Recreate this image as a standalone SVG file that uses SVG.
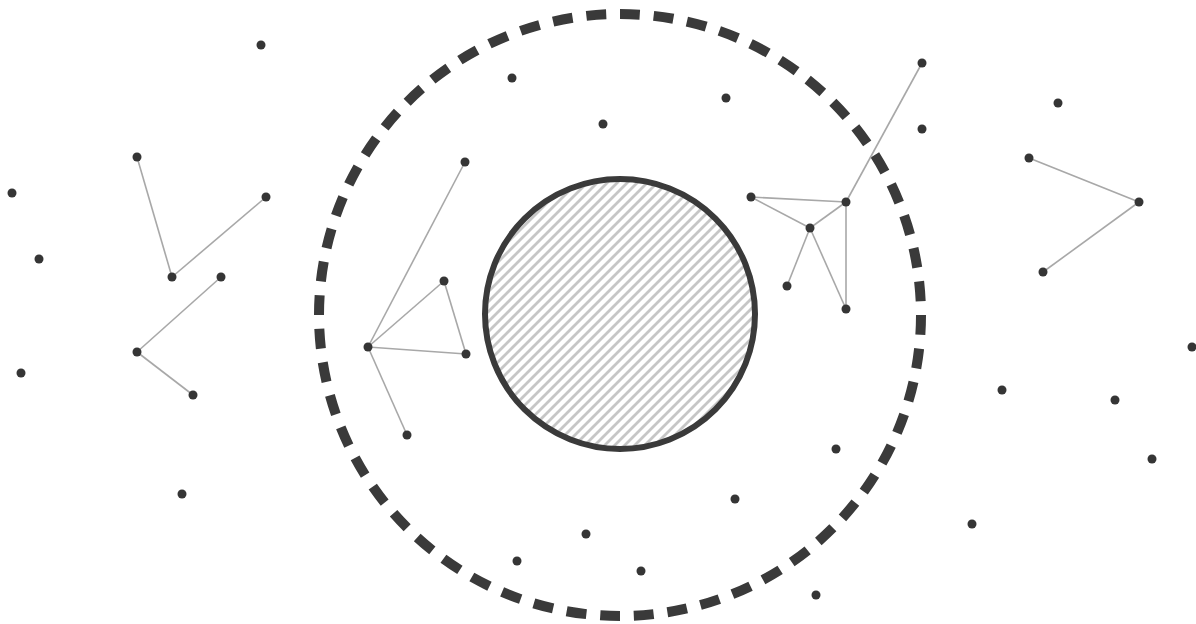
<svg xmlns="http://www.w3.org/2000/svg" width="1196" height="624" viewBox="0 0 1196 624">
<style>
.dot{fill:#353535}
.edge{stroke:#a8a8a8;stroke-width:1.6;fill:none}
.boundary{fill:none;stroke:#3a3a3a;stroke-width:10;stroke-dasharray:20 14}
.core{fill:url(#hatch);stroke:#3a3a3a;stroke-width:6}
</style>
<defs>
<pattern id="hatch" patternUnits="userSpaceOnUse" width="10" height="10">
<rect width="10" height="10" fill="#ffffff"/>
<path d="M0,10 L10,0 M-2,2 L2,-2 M8,12 L12,8" stroke="#c6c6c6" stroke-width="2.8"/>
</pattern>
</defs>
<rect width="1196" height="624" fill="#ffffff"/>
<g id="boundary"><circle class="boundary" cx="620" cy="315" r="301" pathLength="1904"/></g>
<g id="core"><circle class="core" cx="620" cy="314" r="135"/></g>
<g id="connectors">
<line class="edge" x1="137" y1="157" x2="172" y2="277"/>
<line class="edge" x1="172" y1="277" x2="266" y2="197"/>
<line class="edge" x1="221" y1="277" x2="137" y2="352"/>
<line class="edge" x1="137" y1="352" x2="193" y2="395"/>
<line class="edge" x1="368" y1="347" x2="465" y2="162"/>
<line class="edge" x1="368" y1="347" x2="444" y2="281"/>
<line class="edge" x1="444" y1="281" x2="466" y2="354"/>
<line class="edge" x1="368" y1="347" x2="466" y2="354"/>
<line class="edge" x1="368" y1="347" x2="407" y2="435"/>
<line class="edge" x1="922" y1="63" x2="846" y2="202"/>
<line class="edge" x1="751" y1="197" x2="846" y2="202"/>
<line class="edge" x1="751" y1="197" x2="810" y2="228"/>
<line class="edge" x1="810" y1="228" x2="846" y2="202"/>
<line class="edge" x1="846" y1="202" x2="846" y2="309"/>
<line class="edge" x1="810" y1="228" x2="787" y2="286"/>
<line class="edge" x1="810" y1="228" x2="846" y2="309"/>
<line class="edge" x1="1029" y1="158" x2="1139" y2="202"/>
<line class="edge" x1="1139" y1="202" x2="1043" y2="272"/>
</g>
<g id="n1"><circle class="dot" cx="261" cy="45" r="4.5"/></g>
<g id="n2"><circle class="dot" cx="12" cy="193" r="4.5"/></g>
<g id="n3"><circle class="dot" cx="39" cy="259" r="4.5"/></g>
<g id="n4"><circle class="dot" cx="21" cy="373" r="4.5"/></g>
<g id="n5"><circle class="dot" cx="182" cy="494" r="4.5"/></g>
<g id="n6"><circle class="dot" cx="137" cy="157" r="4.5"/></g>
<g id="n7"><circle class="dot" cx="172" cy="277" r="4.5"/></g>
<g id="n8"><circle class="dot" cx="266" cy="197" r="4.5"/></g>
<g id="n9"><circle class="dot" cx="221" cy="277" r="4.5"/></g>
<g id="n10"><circle class="dot" cx="137" cy="352" r="4.5"/></g>
<g id="n11"><circle class="dot" cx="193" cy="395" r="4.5"/></g>
<g id="n12"><circle class="dot" cx="512" cy="78" r="4.5"/></g>
<g id="n13"><circle class="dot" cx="603" cy="124" r="4.5"/></g>
<g id="n14"><circle class="dot" cx="726" cy="98" r="4.5"/></g>
<g id="n15"><circle class="dot" cx="465" cy="162" r="4.5"/></g>
<g id="n16"><circle class="dot" cx="444" cy="281" r="4.5"/></g>
<g id="n17"><circle class="dot" cx="368" cy="347" r="4.5"/></g>
<g id="n18"><circle class="dot" cx="466" cy="354" r="4.5"/></g>
<g id="n19"><circle class="dot" cx="407" cy="435" r="4.5"/></g>
<g id="n20"><circle class="dot" cx="922" cy="63" r="4.5"/></g>
<g id="n21"><circle class="dot" cx="922" cy="129" r="4.5"/></g>
<g id="n22"><circle class="dot" cx="751" cy="197" r="4.5"/></g>
<g id="n23"><circle class="dot" cx="846" cy="202" r="4.5"/></g>
<g id="n24"><circle class="dot" cx="810" cy="228" r="4.5"/></g>
<g id="n25"><circle class="dot" cx="787" cy="286" r="4.5"/></g>
<g id="n26"><circle class="dot" cx="846" cy="309" r="4.5"/></g>
<g id="n27"><circle class="dot" cx="836" cy="449" r="4.5"/></g>
<g id="n28"><circle class="dot" cx="735" cy="499" r="4.5"/></g>
<g id="n29"><circle class="dot" cx="586" cy="534" r="4.5"/></g>
<g id="n30"><circle class="dot" cx="517" cy="561" r="4.5"/></g>
<g id="n31"><circle class="dot" cx="641" cy="571" r="4.5"/></g>
<g id="n32"><circle class="dot" cx="816" cy="595" r="4.5"/></g>
<g id="n33"><circle class="dot" cx="972" cy="524" r="4.5"/></g>
<g id="n34"><circle class="dot" cx="1058" cy="103" r="4.5"/></g>
<g id="n35"><circle class="dot" cx="1029" cy="158" r="4.5"/></g>
<g id="n36"><circle class="dot" cx="1139" cy="202" r="4.5"/></g>
<g id="n37"><circle class="dot" cx="1043" cy="272" r="4.5"/></g>
<g id="n38"><circle class="dot" cx="1192" cy="347" r="4.5"/></g>
<g id="n39"><circle class="dot" cx="1002" cy="390" r="4.5"/></g>
<g id="n40"><circle class="dot" cx="1115" cy="400" r="4.5"/></g>
<g id="n41"><circle class="dot" cx="1152" cy="459" r="4.5"/></g>
</svg>
